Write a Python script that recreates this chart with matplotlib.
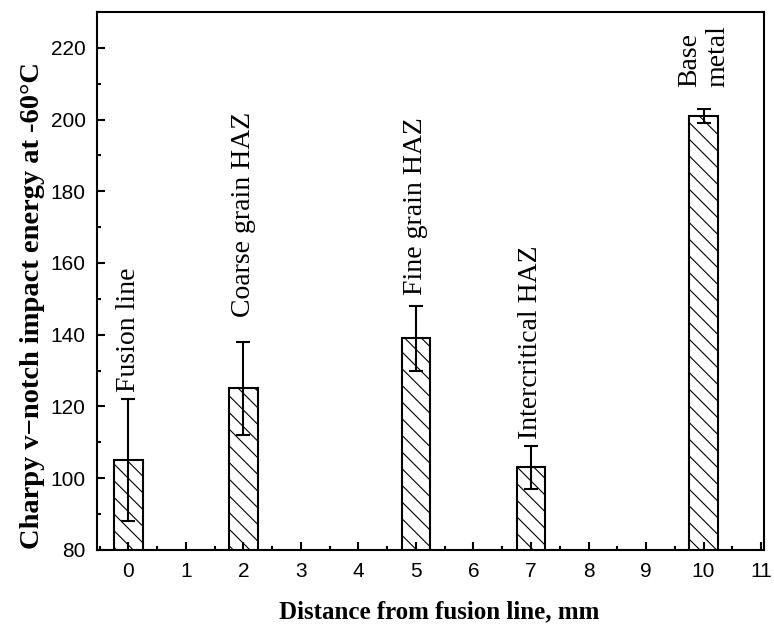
import matplotlib.pyplot as plt
from matplotlib.ticker import MultipleLocator

plt.rcParams['hatch.linewidth'] = 0.8

# data
positions = [0, 2, 5, 7, 10]
energy = [105, 125, 139, 103, 201]
errors = [17, 13, 9, 6, 2]
zones = ["Fusion line", "Coarse grain HAZ", "Fine grain HAZ",
         "Intercritical HAZ", "Base\nmetal"]
label_y = [124, 145, 151, 111, 209]

fig = plt.figure(figsize=(7.74, 6.27), dpi=100)
ax = fig.add_axes([0.125, 0.123, 0.862, 0.858])

ax.bar(positions, energy, width=0.5, bottom=0, color="white",
       edgecolor="black", linewidth=1.5, hatch="\\\\")
ax.errorbar(positions, energy, yerr=errors, fmt="none", ecolor="black",
            elinewidth=1.5, capsize=5, capthick=1.5)

for x, y, name in zip(positions, label_y, zones):
    ax.text(x, y, name, rotation=90, ha="center", va="bottom",
            multialignment="left", family="Liberation Serif", fontsize=20,
            linespacing=1.15)

ax.set_xlim(-0.55, 11.05)
ax.set_ylim(80, 230)
ax.set_xticks(range(0, 12))
ax.set_yticks(range(80, 221, 20))
ax.xaxis.set_minor_locator(MultipleLocator(0.5))
ax.yaxis.set_minor_locator(MultipleLocator(10))
ax.tick_params(which="both", direction="in", top=False, right=False,
               width=1.5, labelsize=15)
ax.tick_params(which="major", length=6)
ax.tick_params(which="minor", length=3)
ax.tick_params(axis="x", pad=9)
ax.tick_params(axis="y", pad=8)
for lab in ax.get_xticklabels() + ax.get_yticklabels():
    lab.set_family("Liberation Sans")
for sp in ax.spines.values():
    sp.set_linewidth(1.5)

ax.set_xlabel("Distance from fusion line, mm", family="Liberation Serif",
              fontsize=18, fontweight="bold")
ax.xaxis.set_label_coords(0.514, -0.094)
ax.set_ylabel("Charpy v\u2212notch impact energy at -60\u00b0C",
              family="Liberation Serif", fontsize=20.5, fontweight="bold")
ax.yaxis.set_label_coords(-0.078, 0.455)

fig.savefig("out.png", dpi=100)
